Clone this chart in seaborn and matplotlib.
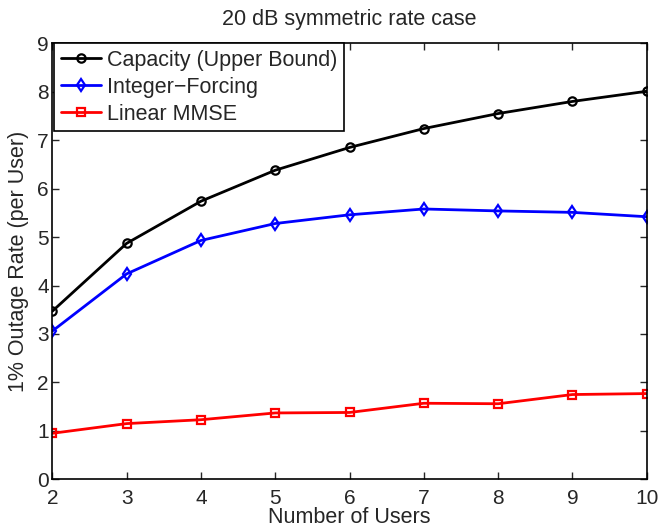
import matplotlib
matplotlib.use("Agg")
import matplotlib.pyplot as plt
import seaborn as sns
import pandas as pd

users = [2, 3, 4, 5, 6, 7, 8, 9, 10]
capacity = [3.47, 4.87, 5.74, 6.38, 6.85, 7.24, 7.55, 7.80, 8.01]
integer_forcing = [3.06, 4.24, 4.93, 5.28, 5.46, 5.58, 5.54, 5.51, 5.42]
linear_mmse = [0.95, 1.15, 1.23, 1.37, 1.38, 1.57, 1.56, 1.75, 1.77]
series_names = ["Capacity (Upper Bound)", "Integer\u2212Forcing", "Linear MMSE"]
x_ticks = [2, 3, 4, 5, 6, 7, 8, 9, 10]
y_ticks = [0, 1, 2, 3, 4, 5, 6, 7, 8, 9]

sns.set_style("ticks")
plt.rcParams['font.family'] = ['Liberation Sans', 'DejaVu Sans']

fig = plt.figure(figsize=(6.62, 5.28), dpi=100)
ax = fig.add_axes([0.079, 0.0922, 0.898, 0.8258])

styles = [("black", "o"), ("blue", "d"), ("red", "s")]
for name, vals, (col, mk) in zip(series_names, [capacity, integer_forcing, linear_mmse], styles):
    df = pd.DataFrame({"x": users, "y": vals})
    sns.lineplot(data=df, x="x", y="y", ax=ax, color=col, marker=mk, linewidth=2,
                 markersize=6 if mk != "s" else 5.5, markerfacecolor="none",
                 markeredgecolor=col, markeredgewidth=1.6, label=name)

ax.set_xlim(2, 10)
ax.set_ylim(0, 9)
ax.set_xticks(x_ticks)
ax.set_yticks(y_ticks)
ax.tick_params(direction="in", top=True, right=True, labelsize=15, length=5, width=1)
ax.tick_params(axis="x", pad=7)
ax.tick_params(axis="y", pad=2.5)
for s in ax.spines.values():
    s.set_linewidth(1.2)
    s.set_color("black")
ax.set_xlabel("Number of Users", fontsize=15.5, labelpad=-1)
ax.set_ylabel("1% Outage Rate (per User)", fontsize=15.5, labelpad=6)
ax.set_title("20 dB symmetric rate case", fontsize=15.5, pad=13)

leg = ax.legend(loc="upper left", bbox_to_anchor=(0.0035, 1.0), borderaxespad=0, fontsize=15.5,
                frameon=True, fancybox=False, handlelength=1.85, handletextpad=0.3,
                borderpad=0.3, labelspacing=0.28)
leg.get_frame().set_edgecolor("black")
leg.get_frame().set_linewidth(1.2)
leg.get_frame().set_alpha(1)

fig.savefig("out.png", dpi=100)
